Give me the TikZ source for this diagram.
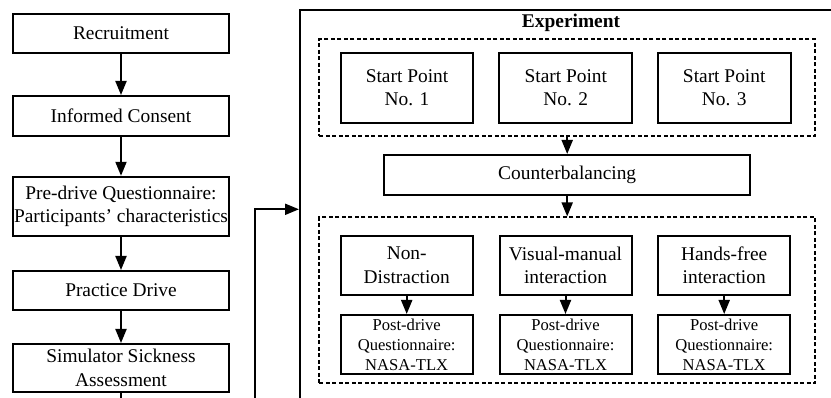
\documentclass[tikz,border=0pt]{standalone}
\usepackage{fontspec}
\setmainfont{Liberation Serif}
\usetikzlibrary{arrows.meta}

\begin{document}
\begin{tikzpicture}[x=1pt,y=-1pt,
  box/.style={draw,line width=2pt,align=center,inner sep=0pt,font=\fontsize{19.4}{23.3}\selectfont},
  smallbox/.style={box,font=\fontsize{16.6}{20}\selectfont},
  dashbox/.style={draw,line width=1.8pt,dash pattern=on 4pt off 2.5pt,inner sep=0pt},
  line/.style={line width=2pt},
  arr/.style={line width=2pt,-{Triangle[length=14pt,width=11pt]}}]
 \useasboundingbox (0,0) rectangle (831,398);
 \clip (0,0) rectangle (831,398);
 % left column
 \node[box,minimum width=216pt,minimum height=39pt] (recruit) at (121,33.5) {Recruitment};
 \node[box,minimum width=216pt,minimum height=40pt] (consent) at (121,116) {Informed Consent};
 \node[box,minimum width=216pt,minimum height=59pt] (predrive) at (121,206.3) {Pre-drive Questionnaire:\\Participants’ characteristics};
 \node[box,minimum width=216pt,minimum height=39pt] (practice) at (121,290.5) {Practice Drive};
 \node[box,minimum width=216pt,minimum height=48pt] (sickness) at (121,368) {Simulator Sickness\\Assessment};
 \coordinate (down) at (121,410);
 \draw[arr] (recruit) -- (consent);
 \draw[arr] (consent) -- (predrive);
 \draw[arr] (predrive) -- (practice);
 \draw[arr] (practice) -- (sickness);
 \draw[line] (sickness) -- (down);
 % experiment
 \node[draw,line width=2pt,minimum width=542pt,minimum height=410pt] (expt) at (571,215) {};
 \node[font=\fontsize{19.4}{23.3}\selectfont\bfseries] (title) at (571,23) {Experiment};
 \coordinate (loopin) at (255,410);
 \coordinate (turn) at (255,209.3);
 \draw[arr] (loopin) -- (turn) -- (turn -| expt.west);
 % start points
 \node[dashbox,minimum width=495.7pt,minimum height=96.7pt] (starts) at (567.2,87.7) {};
 \node[box,minimum width=132.7pt,minimum height=69.4pt] (sp1) at (407,88) {Start Point\\No. 1};
 \node[box,minimum width=132.7pt,minimum height=69.4pt] (sp2) at (565.8,88) {Start Point\\No. 2};
 \node[box,minimum width=132.7pt,minimum height=69.4pt] (sp3) at (724.2,88) {Start Point\\No. 3};
 \node[box,minimum width=366pt,minimum height=40pt] (counter) at (567.2,175) {Counterbalancing};
 \draw[arr] (starts.south) -- (counter.north);
 % conditions
 \node[dashbox,minimum width=495.7pt,minimum height=166pt] (conds) at (567.2,300.3) {};
 \draw[arr] (counter.south) -- (conds.north);
 \node[box,minimum width=132pt,minimum height=59.3pt] (nondis) at (406.7,265.3) {Non-\\Distraction};
 \node[box,minimum width=132pt,minimum height=59.3pt] (visual) at (565.5,265.3) {Visual-manual\\interaction};
 \node[box,minimum width=132pt,minimum height=59.3pt] (hands) at (724.2,265.3) {Hands-free\\interaction};
 \node[smallbox,minimum width=132pt,minimum height=59pt] (post1) at (406.7,344.5) {Post-drive\\Questionnaire:\\NASA-TLX};
 \node[smallbox,minimum width=132pt,minimum height=59pt] (post2) at (565.5,344.5) {Post-drive\\Questionnaire:\\NASA-TLX};
 \node[smallbox,minimum width=132pt,minimum height=59pt] (post3) at (724.2,344.5) {Post-drive\\Questionnaire:\\NASA-TLX};
 \draw[arr] (nondis) -- (post1);
 \draw[arr] (visual) -- (post2);
 \draw[arr] (hands) -- (post3);
\end{tikzpicture}
\end{document}
